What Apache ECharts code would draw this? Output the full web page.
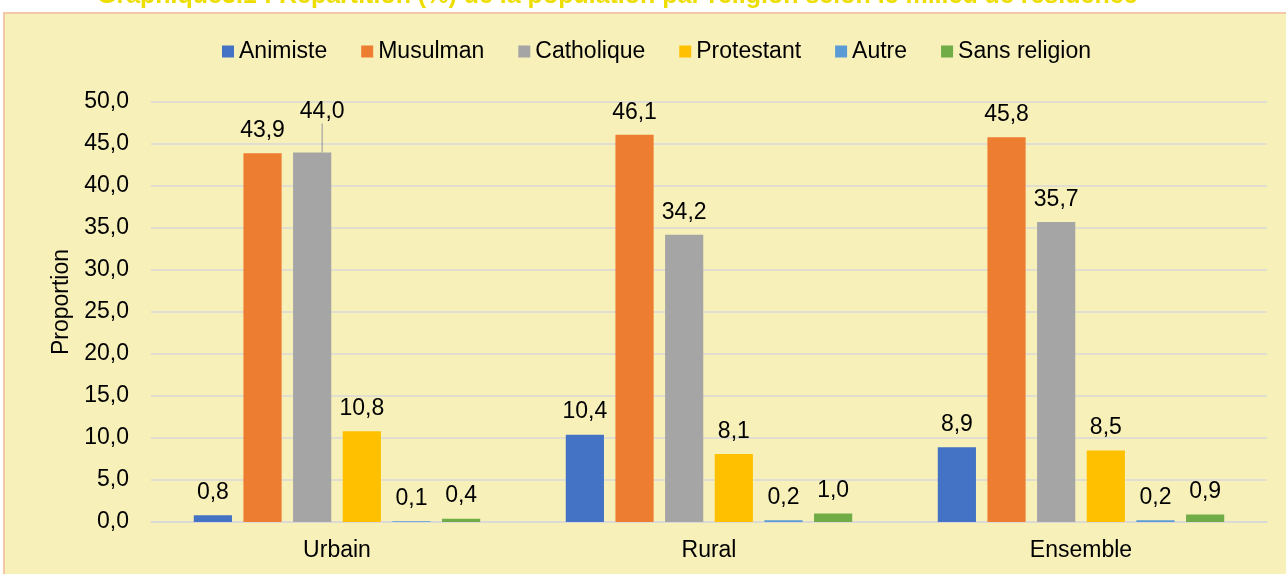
<!DOCTYPE html>
<html>
<head>
<meta charset="utf-8">
<script src="https://cdn.jsdelivr.net/npm/echarts@6/dist/echarts.min.js"></script>
<style>
    html, body { margin: 0; padding: 0; background: #ffffff; }
    #chart { width: 1286px; height: 574px; }
</style>
</head>
<body>
<div id="chart"></div>
<script>
var categories = ['Urbain', 'Rural', 'Ensemble'];
var seriesNames = ['Animiste', 'Musulman', 'Catholique', 'Protestant', 'Autre', 'Sans religion'];
var animiste = [0.8, 10.4, 8.9];
var musulman = [43.9, 46.1, 45.8];
var catholique = [44.0, 34.2, 35.7];
var protestant = [10.8, 8.1, 8.5];
var autre = [0.1, 0.2, 0.2];
var sansReligion = [0.4, 1.0, 0.9];
var colors = ['#4472C4', '#ED7D31', '#A5A5A5', '#FFC000', '#5B9BD5', '#70AD47'];
var yTicks = [0, 5, 10, 15, 20, 25, 30, 35, 40, 45, 50];

function fmt(v) {
    return Number(v).toFixed(1).replace('.', ',');
}

var font = 'Liberation Sans, Arial, sans-serif';
var allValues = [animiste, musulman, catholique, protestant, autre, sansReligion];

var series = [];
for (var i = 0; i < seriesNames.length; i++) {
    var data = allValues[i];
    if (seriesNames[i] === 'Catholique') {
        // seul le 44,0 (Urbain) a un trait de rappel
        data = allValues[i].map(function (v, k) {
            return k === 0 ? { value: v, labelLine: { show: true } } : { value: v, labelLine: { show: false } };
        });
    }
    var s = {
        name: seriesNames[i],
        type: 'bar',
        data: data,
        barGap: '30%',
        barCategoryGap: '23%',
        itemStyle: { color: colors[i] },
        label: {
            show: true,
            position: 'top',
            distance: 11,
            color: '#000',
            fontFamily: font,
            fontSize: 23,
            formatter: function (p) { return fmt(p.value); }
        }
    };
    if (seriesNames[i] === 'Catholique') {
        s.labelLayout = function (p) {
            if (p.dataIndex === 0) return { dx: 10, dy: -18 };
            return {};
        };
        s.labelLine = { show: false, lineStyle: { color: '#A5A5A5', width: 1.2 } };
    }
    series.push(s);
}

var chart = echarts.init(document.getElementById('chart'));
chart.setOption({
    animation: false,
    backgroundColor: '#ffffff',
    title: {
        text: 'Graphique3.1 : Répartition (%) de la population par religion selon le milieu de résidence',
        left: 92,
        top: -21,
        textStyle: { color: '#EEDD00', fontFamily: font, fontWeight: 'bold', fontSize: 25 }
    },
    graphic: [{
        type: 'rect',
        z: -10,
        shape: { x: 4, y: 13, width: 1400, height: 700 },
        style: { fill: '#F7F0B9', stroke: '#F4C7A6', lineWidth: 2 }
    }],
    legend: {
        data: seriesNames,
        left: 217,
        top: 35,
        itemWidth: 12,
        itemHeight: 12,
        itemGap: 34,
        icon: 'rect',
        textStyle: { color: '#000', fontFamily: font, fontSize: 23 }
    },
    grid: { left: 151, right: 19, top: 102, bottom: 52 },
    xAxis: {
        type: 'category',
        data: categories,
        axisLine: { lineStyle: { color: '#D9D9D9', width: 1.5 } },
        axisTick: { show: false },
        axisLabel: { color: '#000', fontFamily: font, fontSize: 23, margin: 17 }
    },
    yAxis: {
        type: 'value',
        min: yTicks[0],
        max: yTicks[yTicks.length - 1],
        interval: yTicks[1] - yTicks[0],
        name: 'Proportion',
        nameLocation: 'middle',
        nameGap: 77,
        nameTextStyle: { color: '#000', fontFamily: font, fontSize: 23, padding: [0, 0, 0, 20] },
        axisLine: { show: false },
        axisTick: { show: false },
        splitLine: { lineStyle: { color: '#D9D9D9', width: 1.5 } },
        axisLabel: {
            color: '#000', fontFamily: font, fontSize: 23, margin: 22,
            formatter: function (v) { return fmt(v); }
        }
    },
    series: series
});
</script>
</body>
</html>
